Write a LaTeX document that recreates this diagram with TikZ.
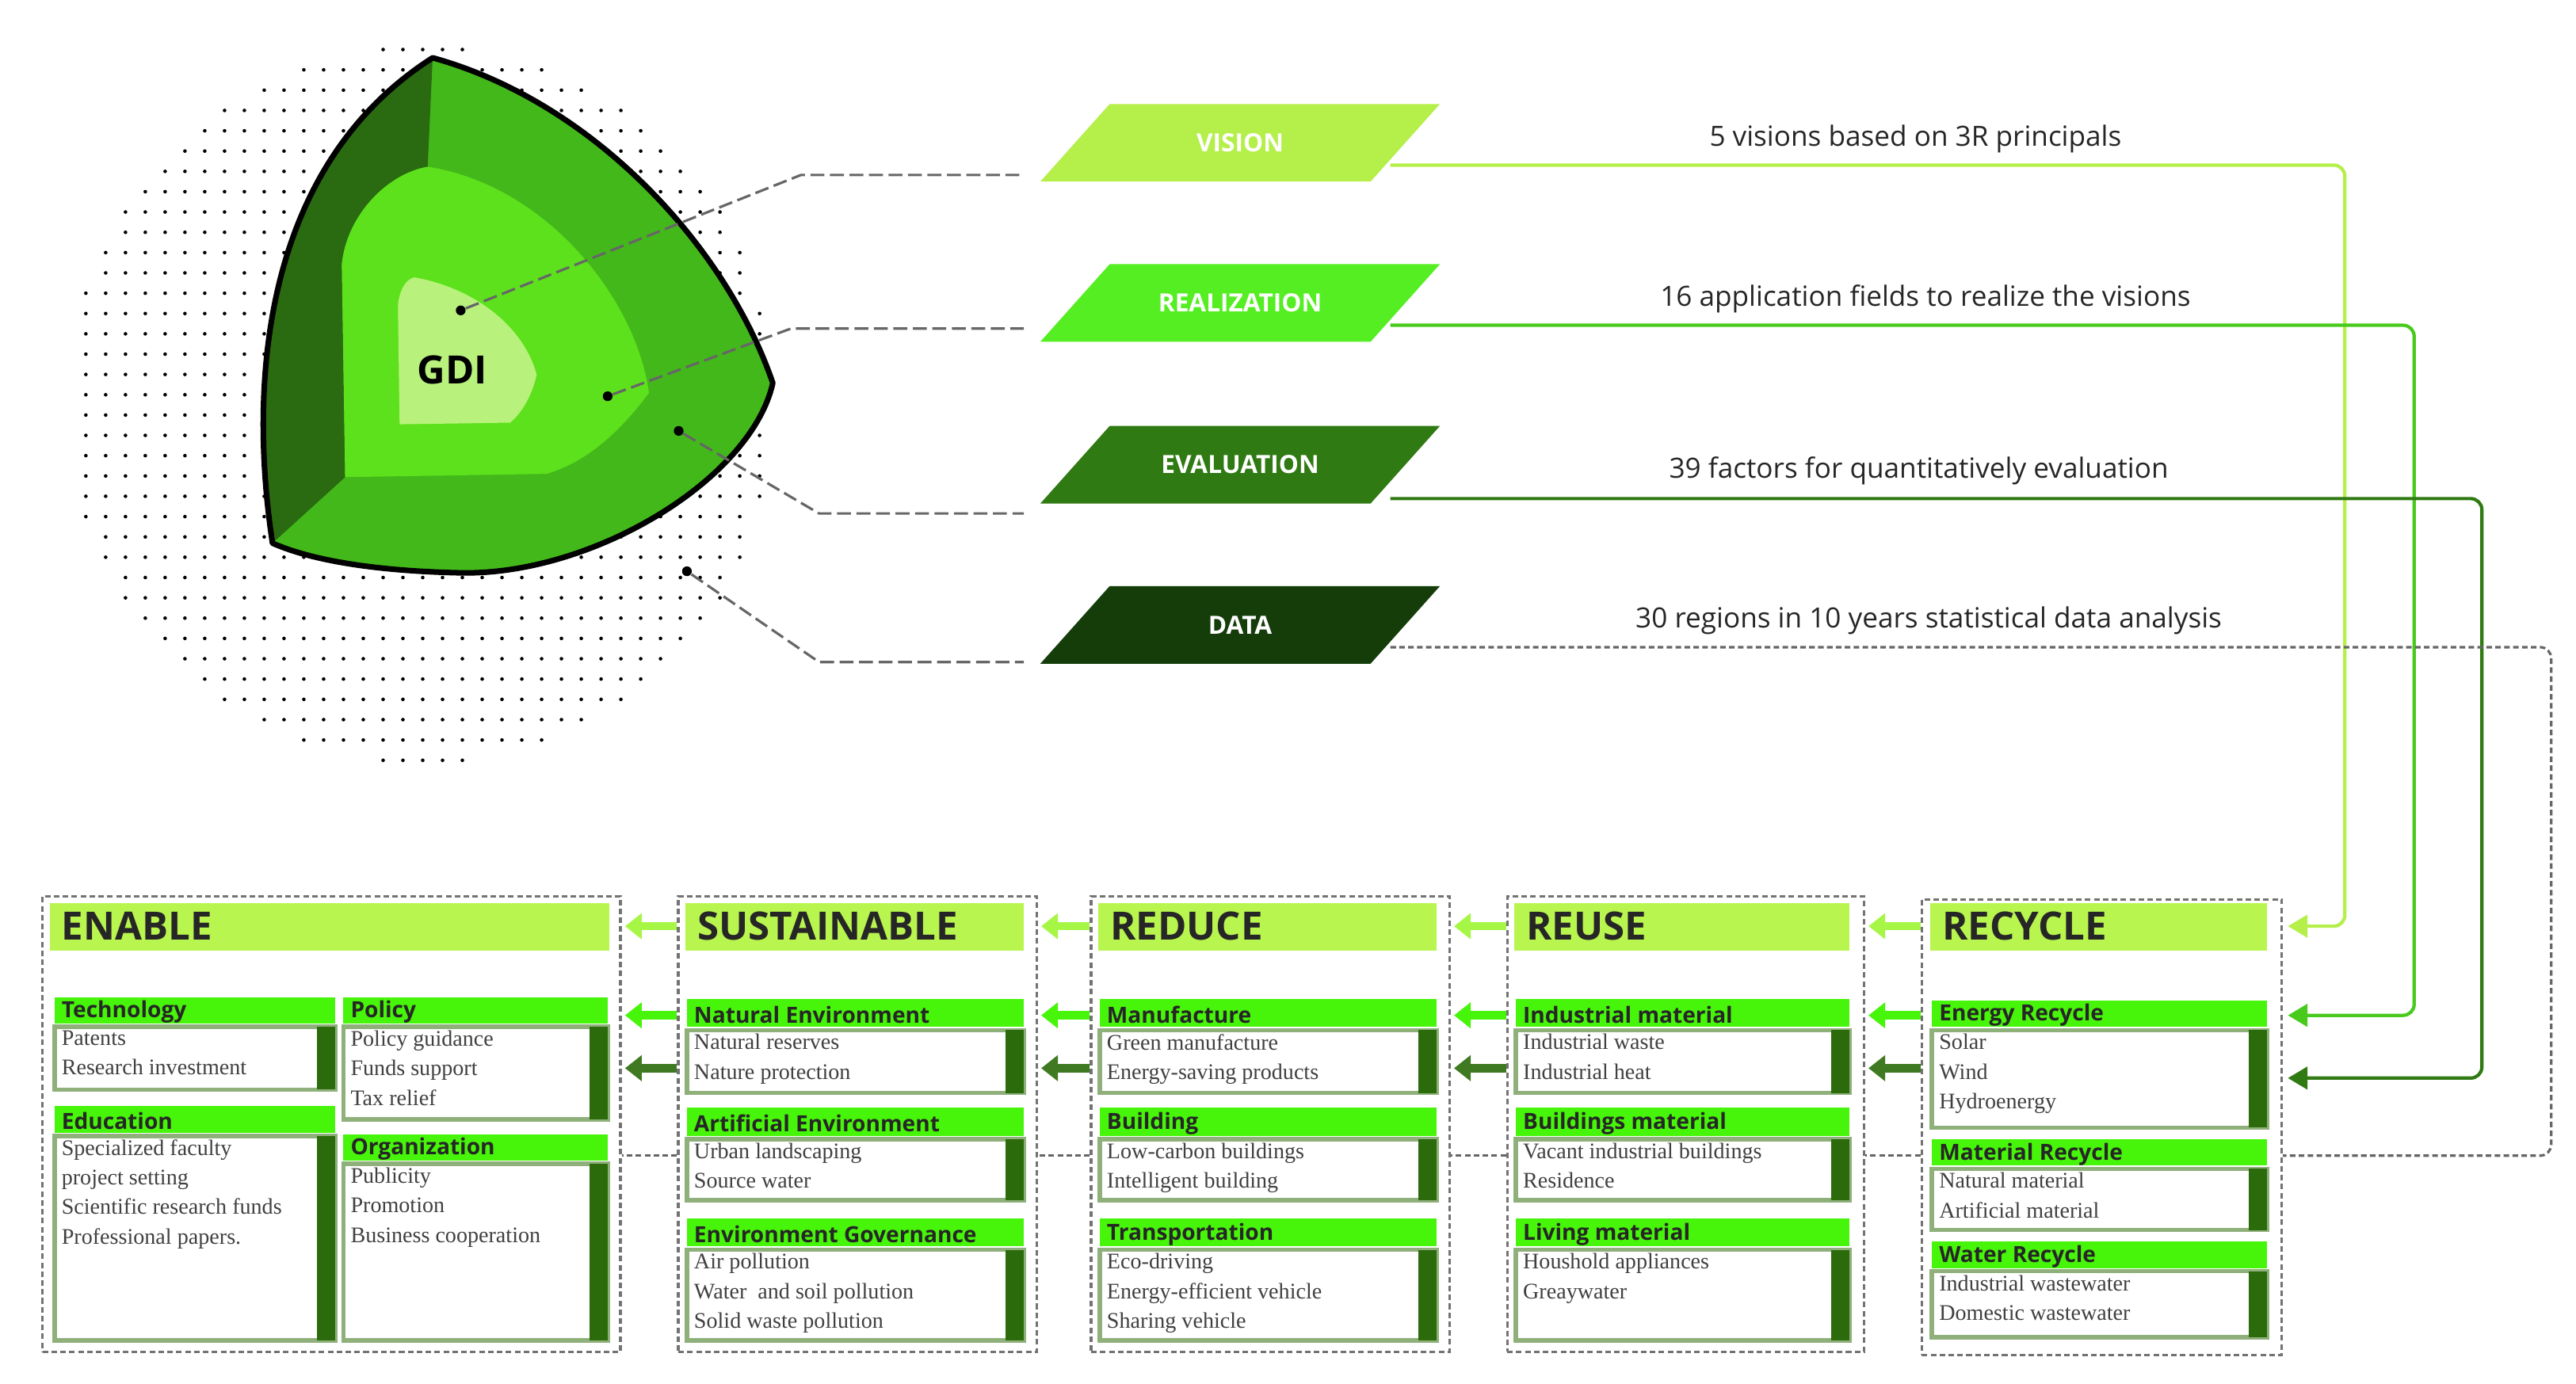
\documentclass[tikz,border=0pt]{standalone}
\usepackage{fontspec}
\setmainfont{Liberation Serif}
\newfontfamily\osans{Open Sans}
\usetikzlibrary{arrows.meta,calc}
\definecolor{hdrc}{HTML}{B8F54E}
\definecolor{subc}{HTML}{47F50A}
\definecolor{barc}{HTML}{2B6B0B}
\definecolor{bordc}{HTML}{8FB07A}
\definecolor{visc}{HTML}{B5EF4A}
\definecolor{realc}{HTML}{55EE22}
\definecolor{evalc}{HTML}{2F7A12}
\definecolor{datac}{HTML}{143D0A}
\definecolor{outc}{HTML}{43B81B}
\definecolor{darkf}{HTML}{2A6A10}
\definecolor{midc}{HTML}{5DE11C}
\definecolor{innc}{HTML}{B8F27C}
\def\uu{0.02084cm}
\tikzset{
 subtxt/.style={font=\osans\bfseries\fontsize{8}{9}\selectfont,inner sep=0pt,text=black!85},
 itemtxt/.style={font=\fontsize{8}{10.6}\selectfont,inner sep=0pt,align=left,text=black!75},
 hdrtxt/.style={font=\osans\bfseries\fontsize{14}{16}\selectfont,inner sep=0pt,text=black!85},
 boxborder/.style={draw=bordc,line width=1.6pt},
 coldash/.style={draw=black!55,dashed,dash pattern=on 2pt off 1.2pt,line width=0.9pt,inner sep=0pt,anchor=north west},
 paratxt/.style={font=\osans\bfseries\fontsize{9}{10}\selectfont,text=white,inner sep=0pt},
 righttxt/.style={font=\osans\fontsize{10}{12}\selectfont,inner sep=0pt,text=black!85},
 arrL/.style={line width=3pt,-{Triangle[length=6pt,width=9pt]}},
 linkdash/.style={draw=black!60,dashed,dash pattern=on 5pt off 2pt,line width=0.9pt},
 gdot/.style={circle,fill=black,inner sep=0pt,minimum size=3.5pt},
}
\newcommand\gb[8]{%
 \fill[subc] (#2,#4) rectangle (#3,#5);
 \node[subtxt,anchor=west] (#1) at ({#2+4},{(#4+#5)/2+1}) {#7};
 \draw[boxborder,fill=white] (#2,{#5+2}) rectangle (#3,#6);
 \fill[barc] ({#3-11},{#5+2}) rectangle (#3,#6);
 \node[itemtxt,anchor=north west] (#1i) at ({#2+4},{#5+4}) {#8};
}
\newcommand\para[5]{% name, ytop, ybot, color, text
 \fill[#4] (672,#2) -- (872,#2) -- (830,#3) -- (630,#3) -- cycle;
 \node[paratxt] (#1) at (751,{(#2+#3)/2}) {#5};
}
\begin{document}
\begin{tikzpicture}[x=0.02084cm,y=-0.02084cm]
\useasboundingbox (0,0) rectangle (1560,838);
% dot cloud
\foreach \i in {0,...,36}{\foreach \j in {0,...,36}{
 \pgfmathsetmacro\px{40+\i*12}\pgfmathsetmacro\py{30+\j*12.3}
 \pgfmathparse{((\px-255)/215)^2+((\py-245)/217)^2<1?1:0}
 \ifnum\pgfmathresult=1 \fill[black] (\px,\py) circle (1.1);\fi}}
% sphere
\fill[outc] (262,35) .. controls (360,62) and (440,150) .. (468,232) .. controls (455,290) and (360,348) .. (280,347) .. controls (230,346) and (190,340) .. (165,329) .. controls (150,230) and (160,100) .. (262,35) -- cycle;
\fill[darkf] (262,35) .. controls (160,100) and (150,230) .. (165,329) -- (209,289) -- (207,160) .. controls (210,130) and (235,105) .. (259,101) -- cycle;
\fill[midc] (259,101) .. controls (330,112) and (385,180) .. (393,238) .. controls (375,262) and (355,280) .. (331,287) -- (209,289) -- (207,160) .. controls (210,130) and (235,105) .. (259,101) -- cycle;
\fill[innc] (251,168) .. controls (290,175) and (318,200) .. (325,227) .. controls (322,240) and (316,250) .. (309,256) -- (242,257) -- (241,185) .. controls (242,175) and (246,169) .. (251,168) -- cycle;
\draw[line width=2pt,line join=round] (262,35) .. controls (360,62) and (440,150) .. (468,232) .. controls (455,290) and (360,348) .. (280,347) .. controls (230,346) and (190,340) .. (165,329) .. controls (150,230) and (160,100) .. (262,35) -- cycle;
\node[font=\osans\bfseries\fontsize{14}{16}\selectfont,inner sep=0pt] (gdi) at (274,224) {GDI};
\node[gdot] (d1) at (279,188) {};
\node[gdot] (d2) at (368,240) {};
\node[gdot] (d3) at (411,261) {};
\node[gdot] (d4) at (416,346) {};
% parallelograms
\para{vis}{63}{110}{visc}{VISION}
\para{rea}{160}{207}{realc}{REALIZATION}
\para{eva}{258}{305}{evalc}{EVALUATION}
\para{dat}{355}{402}{datac}{DATA}
\coordinate (k1) at (485,106); \coordinate (p1) at (620,106);
\coordinate (k2) at (479,199); \coordinate (p2) at (620,199);
\coordinate (k3) at (496,311); \coordinate (p3) at (620,311);
\coordinate (k4) at (496,401); \coordinate (p4) at (620,401);
\draw[linkdash] (d1) -- (k1) -- (p1);
\draw[linkdash] (d2) -- (k2) -- (p2);
\draw[linkdash] (d3) -- (k3) -- (p3);
\draw[linkdash] (d4) -- (k4) -- (p4);
% right texts
\node[righttxt] (t1) at (1160,84) {5 visions based on 3R principals};
\node[righttxt] (t2) at (1166,181) {16 application fields to realize the visions};
\node[righttxt] (t3) at (1162,285) {39 factors for quantitatively evaluation};
\node[righttxt] (t4) at (1168,376) {30 regions in 10 years statistical data analysis};
% columns
\node[coldash,minimum width=350*\uu,minimum height=276*\uu] (colE) at (25,542) {};
\node[coldash,minimum width=217*\uu,minimum height=276*\uu] (colS) at (410,542) {};
\node[coldash,minimum width=217*\uu,minimum height=276*\uu] (colD) at (660,542) {};
\node[coldash,minimum width=216*\uu,minimum height=276*\uu] (colU) at (912,542) {};
\node[coldash,minimum width=218*\uu,minimum height=276*\uu] (colR) at (1163,544) {};
% headers
\foreach \a/\b/\t/\n in {30/369/ENABLE/hE,415/620/SUSTAINABLE/hS,665/870/REDUCE/hD,917/1120/REUSE/hU,1169/1373/RECYCLE/hR}{
 \fill[hdrc] (\a,547) rectangle (\b,576);
 \node[hdrtxt,anchor=west] (\n) at ({\a+7},561) {\t};}
% sub boxes
\gb{tec}{33}{203}{604}{620}{660}{Technology}{Patents\\Research investment}
\gb{edu}{33}{203}{670}{686}{812}{Education}{Specialized faculty\\project setting\\Scientific research funds\\Professional papers.}
\gb{pol}{208}{368}{604}{620}{678}{Policy}{Policy guidance\\Funds support\\Tax relief}
\gb{org}{208}{368}{687}{703}{812}{Organization}{Publicity\\Promotion\\Business cooperation}
\gb{nat}{416}{620}{605}{622}{662}{Natural Environment}{Natural reserves\\Nature protection}
\gb{art}{416}{620}{671}{688}{727}{Artificial Environment}{Urban landscaping\\Source water}
\gb{env}{416}{620}{738}{755}{812}{Environment Governance}{Air pollution\\Water\ \ and soil pollution\\Solid waste pollution}
\gb{man}{666}{870}{605}{622}{662}{Manufacture}{Green manufacture\\Energy-saving products}
\gb{bui}{666}{870}{671}{688}{727}{Building}{Low-carbon buildings\\Intelligent building}
\gb{tra}{666}{870}{738}{755}{812}{Transportation}{Eco-driving\\Energy-efficient vehicle\\Sharing vehicle}
\gb{ind}{918}{1120}{605}{622}{662}{Industrial material}{Industrial waste\\Industrial heat}
\gb{bma}{918}{1120}{671}{688}{727}{Buildings material}{Vacant industrial buildings\\Residence}
\gb{liv}{918}{1120}{738}{755}{812}{Living material}{Houshold appliances\\Greaywater}
\gb{ene}{1170}{1373}{606}{622}{683}{Energy Recycle}{Solar\\Wind\\Hydroenergy}
\gb{mat}{1170}{1373}{690}{706}{745}{Material Recycle}{Natural material\\Artificial material}
\gb{wat}{1170}{1373}{752}{768}{810}{Water Recycle}{Industrial wastewater\\Domestic wastewater}
% row coordinates
\coordinate (r1) at (0,561); \coordinate (r2) at (0,615); \coordinate (r3) at (0,647); \coordinate (r4) at (0,700);
\foreach \L/\R in {colE/colS,colS/colD,colD/colU,colU/colR}{
 \draw[arrL,draw=hdrc!90!green,fill=hdrc!90!green] (\R.west|-r1) -- ($(\L.east|-r1)+(2,0)$);
 \draw[arrL,draw=subc,fill=subc] (\R.west|-r2) -- ($(\L.east|-r2)+(2,0)$);
 \draw[arrL,draw=barc!80!bordc,fill=barc] (\R.west|-r3) -- ($(\L.east|-r3)+(2,0)$);
 \draw[linkdash,dash pattern=on 2pt off 1.2pt] (\R.west|-r4) -- (\L.east|-r4);}
% feedback lines
\coordinate (v0) at (842,100); \coordinate (v1) at (1420,100);
\coordinate (e0) at (842,197); \coordinate (e1) at (1462,197);
\coordinate (f0) at (842,302); \coordinate (f1) at (1503,302);
\coordinate (g0) at (842,392); \coordinate (g1) at (1545,392);
\draw[line width=1.2pt,draw=visc,rounded corners=4pt,-{Triangle[length=7pt,width=8pt]}] (v0) -- (v1) -- (v1|-r1) -- ($(colR.east|-r1)+(3,0)$);
\draw[line width=1.2pt,draw=realc!85!black,rounded corners=4pt,-{Triangle[length=7pt,width=8pt]}] (e0) -- (e1) -- (e1|-r2) -- ($(colR.east|-r2)+(3,0)$);
\draw[line width=1.2pt,draw=evalc,rounded corners=4pt,-{Triangle[length=7pt,width=8pt]}] (f0) -- (f1) -- (f1|-{0,653}) -- ($(colR.east|-{0,653})+(3,0)$);
\draw[linkdash,dash pattern=on 2pt off 1.2pt,rounded corners=4pt] (g0) -- (g1) -- (g1|-r4) -- (colR.east|-r4);
\end{tikzpicture}
\end{document}
